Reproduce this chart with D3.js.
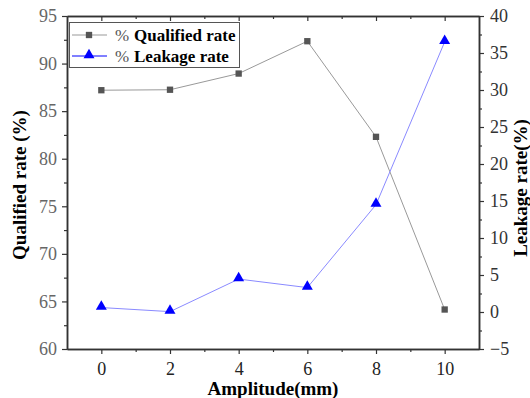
<!DOCTYPE html>
<html>
<head>
<meta charset="utf-8">
<script src="https://d3js.org/d3.v7.min.js"></script>
<style>
  body { margin: 0; background: #fff; }
  svg { display: block; }
  .axis-title { font-weight: bold; font-size: 19px; fill: #000; }
</style>
</head>
<body>
<script>
// data
var amplitude = [0, 2, 4, 6, 8, 10];
var qualifiedRate = [87.2, 87.25, 88.95, 92.35, 82.3, 64.15];
var leakageRate = [0.6, 0.05, 4.45, 3.3, 14.5, 36.5];

var xTicks = [0, 2, 4, 6, 8, 10];
var leftTicks = [60, 65, 70, 75, 80, 85, 90, 95];
var rightTicks = [-5, 0, 5, 10, 15, 20, 25, 30, 35, 40];

var width = 530, height = 398;
var pLeft = 67, pRight = 479, pTop = 16, pBottom = 349;
var serif = "'Liberation Serif', 'DejaVu Serif', serif";

var svg = d3.select("body").append("svg")
  .attr("width", width)
  .attr("height", height)
  .attr("font-family", serif);

var x = d3.scaleLinear().domain([-1, 11]).range([pLeft, pRight]);
var yL = d3.scaleLinear().domain([60, 95]).range([pBottom, pTop]);
var yR = d3.scaleLinear().domain([-5, 40]).range([pBottom, pTop]);

var axisColor = "#333";

// minor ticks halfway between majors
function minor(ticks) {
  var out = [];
  for (var i = 0; i < ticks.length - 1; i++) out.push((ticks[i] + ticks[i + 1]) / 2);
  return out;
}

function styleAxis(g) {
  g.attr("font-family", serif).attr("font-size", 18);
  g.select(".domain").attr("stroke", axisColor).attr("stroke-width", 1.5);
  g.selectAll(".tick line").attr("stroke", axisColor).attr("stroke-width", 1.2);
}

// bottom axis
svg.append("g")
  .attr("transform", "translate(0," + pBottom + ")")
  .call(d3.axisBottom(x).tickValues(xTicks).tickSize(5).tickPadding(8).tickSizeOuter(0))
  .call(styleAxis)
  .call(function (g) { g.selectAll("text").attr("fill", "#222"); });
svg.append("g")
  .attr("transform", "translate(0," + pBottom + ")")
  .call(d3.axisBottom(x).tickValues(minor(xTicks)).tickSize(3).tickFormat("").tickSizeOuter(0))
  .call(styleAxis);

// top axis, ticks point inward
svg.append("g")
  .attr("transform", "translate(0," + pTop + ")")
  .call(d3.axisBottom(x).tickValues(xTicks).tickSize(5).tickFormat("").tickSizeOuter(0))
  .call(styleAxis);
svg.append("g")
  .attr("transform", "translate(0," + pTop + ")")
  .call(d3.axisBottom(x).tickValues(minor(xTicks)).tickSize(3).tickFormat("").tickSizeOuter(0))
  .call(styleAxis);

// left axis
svg.append("g")
  .attr("transform", "translate(" + pLeft + ",0)")
  .call(d3.axisLeft(yL).tickValues(leftTicks).tickSize(5).tickPadding(5).tickSizeOuter(0))
  .call(styleAxis)
  .call(function (g) { g.selectAll("text").attr("fill", "#666"); });
svg.append("g")
  .attr("transform", "translate(" + pLeft + ",0)")
  .call(d3.axisLeft(yL).tickValues(minor(leftTicks)).tickSize(3).tickFormat("").tickSizeOuter(0))
  .call(styleAxis);

// right axis
svg.append("g")
  .attr("transform", "translate(" + pRight + ",0)")
  .call(d3.axisRight(yR).tickValues(rightTicks).tickSize(5).tickPadding(6).tickSizeOuter(0)
    .tickFormat(function (d) { return d < 0 ? "\u2212" + Math.abs(d) : d; }))
  .call(styleAxis)
  .call(function (g) { g.selectAll("text").attr("fill", "#333"); });
svg.append("g")
  .attr("transform", "translate(" + pRight + ",0)")
  .call(d3.axisRight(yR).tickValues(minor(rightTicks)).tickSize(3).tickFormat("").tickSizeOuter(0))
  .call(styleAxis);

// axis titles
svg.append("text").attr("class", "axis-title")
  .attr("text-anchor", "middle")
  .attr("transform", "translate(" + ((pLeft + pRight) / 2) + ",395)")
  .text("Amplitude(mm)");
svg.append("text").attr("class", "axis-title")
  .attr("text-anchor", "middle")
  .attr("transform", "translate(26,185) rotate(-90)")
  .text("Qualified rate (%)");
svg.append("text").attr("class", "axis-title")
  .attr("text-anchor", "middle")
  .attr("transform", "translate(527,188) rotate(-90)")
  .text("Leakage rate(%)");

// series
var qData = amplitude.map(function (a, i) { return [a, qualifiedRate[i]]; });
var lData = amplitude.map(function (a, i) { return [a, leakageRate[i]]; });

svg.append("path")
  .datum(qData)
  .attr("fill", "none").attr("stroke", "#999").attr("stroke-width", 1)
  .attr("d", d3.line().x(function (d) { return x(d[0]); }).y(function (d) { return yL(d[1]); }));
svg.append("path")
  .datum(lData)
  .attr("fill", "none").attr("stroke", "#8a8aff").attr("stroke-width", 1)
  .attr("d", d3.line().x(function (d) { return x(d[0]); }).y(function (d) { return yR(d[1]); }));

var sq = d3.symbol().type(d3.symbolSquare).size(40);
var tri = d3.symbol().type(d3.symbolTriangle).size(52);

svg.selectAll(".qpt").data(qData).enter().append("path")
  .attr("class", "qpt")
  .attr("d", sq)
  .attr("fill", "#555")
  .attr("transform", function (d) { return "translate(" + x(d[0]) + "," + yL(d[1]) + ")"; });
svg.selectAll(".lpt").data(lData).enter().append("path")
  .attr("class", "lpt")
  .attr("d", tri)
  .attr("fill", "#0000ff")
  .attr("transform", function (d) { return "translate(" + x(d[0]) + "," + (yR(d[1]) - 1) + ")"; });

// legend
var legend = svg.append("g").attr("font-size", 17);
legend.append("rect")
  .attr("x", 69.5).attr("y", 22.5).attr("width", 170).attr("height", 45)
  .attr("fill", "#fff").attr("stroke", "#555").attr("stroke-width", 1);

var items = [
  { name: "Qualified rate", color: "#999", mark: sq, fill: "#555" },
  { name: "Leakage rate", color: "#0000ff", mark: tri, fill: "#0000ff" }
];
items.forEach(function (it, i) {
  var cy = 35 + i * 21;
  legend.append("line")
    .attr("x1", 72).attr("x2", 107).attr("y1", cy).attr("y2", cy)
    .attr("stroke", it.color).attr("stroke-width", 1);
  legend.append("path").attr("d", it.mark).attr("fill", it.fill)
    .attr("transform", "translate(89," + (cy - (i ? 1 : 0)) + ")");
  legend.append("text").attr("x", 115).attr("y", cy + 6).attr("fill", "#555").text("%");
  legend.append("text").attr("x", 134).attr("y", cy + 6).attr("font-weight", "bold").attr("fill", "#000").text(it.name);
});
</script>
</body>
</html>
